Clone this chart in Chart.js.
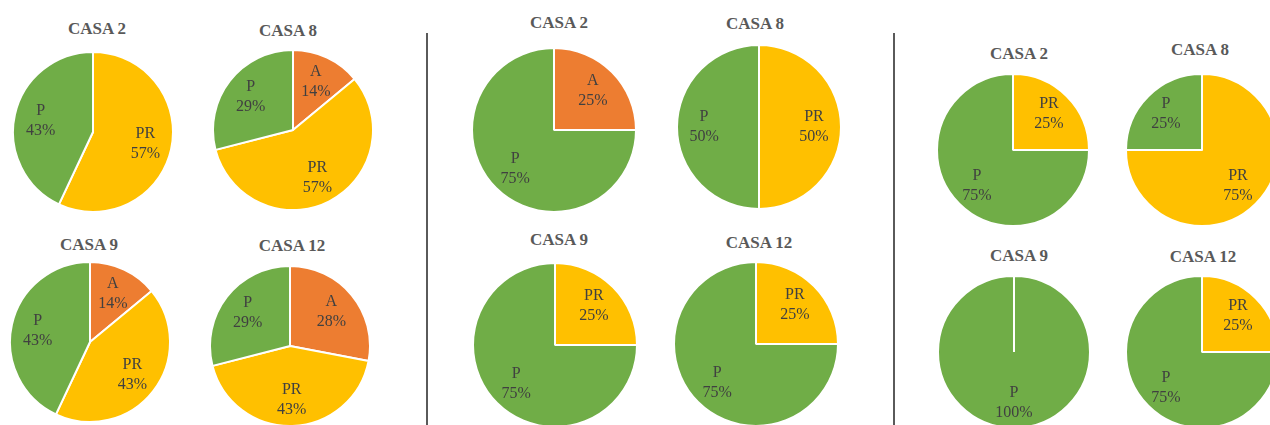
<!DOCTYPE html>
<html>
<head>
<meta charset="utf-8">
<script src="https://cdn.jsdelivr.net/npm/chart.js@4/dist/chart.umd.min.js"></script>
<style>
  html, body { margin: 0; padding: 0; background: #fff; }
  body { width: 1270px; height: 425px; position: relative; overflow: hidden; }
  canvas { position: absolute; }
  .titulo {
    position: absolute; transform: translate(-50%, -50%);
    font: bold 17px "Liberation Serif", "Times New Roman", serif;
    color: #595959; white-space: nowrap;
  }
  .sep { position: absolute; width: 2px; background: #5a5a5a; }
</style>
</head>
<body>
<script>
// dati
const casas = ['CASA 2', 'CASA 8', 'CASA 9', 'CASA 12'];
const categorias = ['A', 'PR', 'P'];
const colori = ['#ED7D31', '#FFC000', '#70AD47'];

const gruppo1A  = [0, 14, 14, 28];
const gruppo1PR = [57, 57, 43, 43];
const gruppo1P  = [43, 29, 43, 29];

const gruppo2A  = [25, 0, 0, 0];
const gruppo2PR = [0, 50, 25, 25];
const gruppo2P  = [75, 50, 75, 75];

const gruppo3A  = [0, 0, 0, 0];
const gruppo3PR = [25, 75, 0, 25];
const gruppo3P  = [75, 25, 100, 75];

const gruppi = [
    [gruppo1A, gruppo1PR, gruppo1P],
    [gruppo2A, gruppo2PR, gruppo2P],
    [gruppo3A, gruppo3PR, gruppo3P]
];

// posizione delle torte: centro x, centro y, raggio; e titolo x, y
const layout = [
    [[93, 132, 80, 97, 29], [293, 130, 80, 288, 31], [90, 342, 80, 89, 245], [290, 346, 80, 292, 246]],
    [[554, 130, 82, 559, 23], [759, 127, 82, 755, 24], [555, 345, 82, 559, 240], [756, 344, 82, 759, 243]],
    [[1013, 150, 76, 1019, 54], [1202, 150, 76, 1200, 50], [1014, 352, 76, 1019, 256], [1202, 352, 76, 1203, 257]]
];

// separatori
[427, 894].forEach(x => {
    const d = document.createElement('div');
    d.className = 'sep';
    d.style.left = (x - 1) + 'px';
    d.style.top = '33px';
    d.style.height = '400px';
    document.body.appendChild(d);
});

// etichette dentro le fette (nome + percentuale)
const etichette = {
    id: 'etichette',
    afterDatasetsDraw(chart) {
        const ctx = chart.ctx;
        const meta = chart.getDatasetMeta(0);
        const valori = chart.data.datasets[0].data;
        ctx.save();
        ctx.font = '16px "Liberation Serif", "Times New Roman", serif';
        ctx.fillStyle = '#404040';
        ctx.textAlign = 'center';
        ctx.textBaseline = 'middle';
        meta.data.forEach((arc, i) => {
            if (!valori[i]) return;
            const p = arc.getProps(['x', 'y', 'startAngle', 'endAngle', 'outerRadius'], true);
            const mid = (p.startAngle + p.endAngle) / 2;
            const d = p.outerRadius * 0.67;
            const x = p.x + Math.cos(mid) * d;
            const y = p.y + Math.sin(mid) * d;
            ctx.fillText(chart.data.labels[i], x, y - 10);
            ctx.fillText(valori[i] + '%', x, y + 10);
        });
        ctx.restore();
    }
};

gruppi.forEach((serie, g) => {
    casas.forEach((casa, c) => {
        const [cx, cy, r, tx, ty] = layout[g][c];
        const size = 2 * r + 4;
        const cv = document.createElement('canvas');
        cv.width = size;
        cv.height = size;
        cv.style.left = (cx - size / 2) + 'px';
        cv.style.top = (cy - size / 2) + 'px';
        document.body.appendChild(cv);

        const t = document.createElement('div');
        t.className = 'titulo';
        t.style.left = tx + 'px';
        t.style.top = ty + 'px';
        t.textContent = casa;
        document.body.appendChild(t);

        new Chart(cv.getContext('2d'), {
            type: 'pie',
            data: {
                labels: categorias,
                datasets: [{
                    data: serie.map(s => s[c]),
                    backgroundColor: colori,
                    borderColor: '#ffffff',
                    borderWidth: 2
                }]
            },
            options: {
                responsive: false,
                animation: false,
                radius: r,
                layout: { padding: 0 },
                plugins: {
                    legend: { display: false },
                    title: { display: false },
                    tooltip: { enabled: false }
                }
            },
            plugins: [etichette]
        });
    });
});
</script>
</body>
</html>
